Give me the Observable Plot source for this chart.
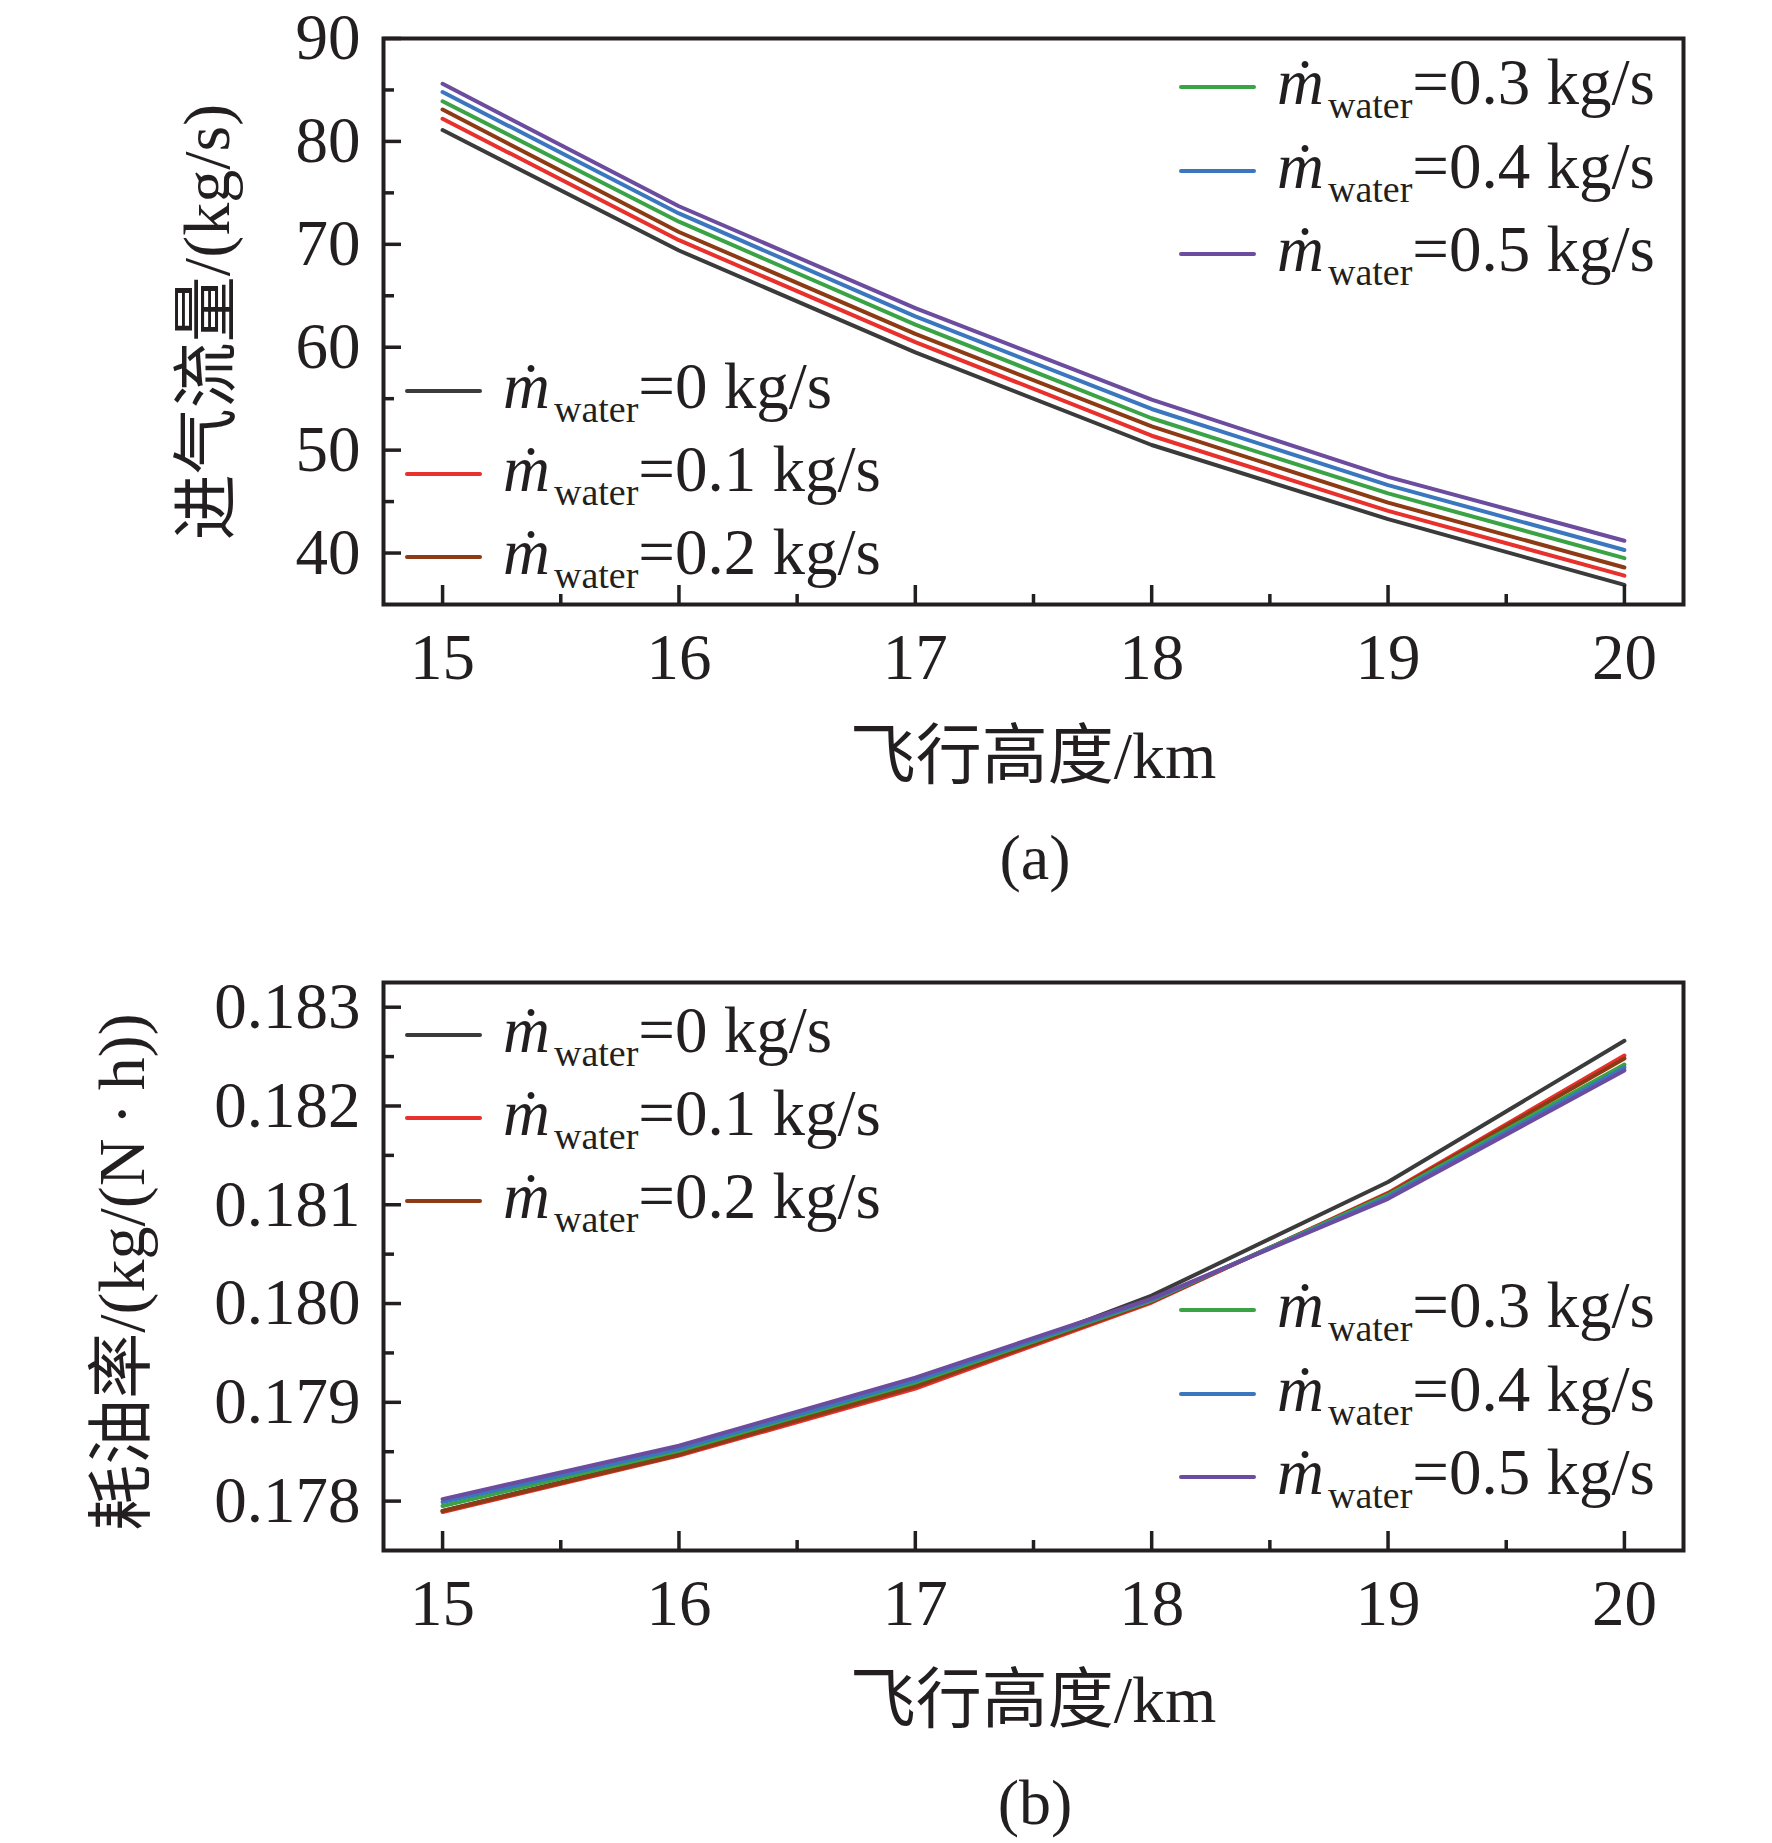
<!DOCTYPE html>
<html>
<head>
<meta charset="utf-8">
<script src="https://cdn.jsdelivr.net/npm/d3@7"></script>
<script src="https://cdn.jsdelivr.net/npm/@observablehq/plot@0.6"></script>
<style>
  html, body { margin: 0; padding: 0; background: #fff; }
  #page { position: relative; width: 1772px; height: 1843px; overflow: hidden; }
  #page > .chart { position: absolute; left: 0; }
  #overlay { position: absolute; left: 0; top: 0; pointer-events: none; }
</style>
</head>
<body>
<div id="page"></div>
<script>
// ---------- data ----------
const altitude = [15, 16, 17, 18, 19, 20];          // km
const waterLabels = ["0", "0.1", "0.2", "0.3", "0.4", "0.5"]; // kg/s
const seriesColors = ["#3b3b3b", "#e8302d", "#8c3b14", "#3aa346", "#3a77bf", "#6b4c9e"];

// (a) intake air mass flow, kg/s
const airflow0 = [81.1, 69.4, 59.5, 50.5, 43.3, 36.9];
const airflow1 = [82.2, 70.4, 60.5, 51.4, 44.1, 37.8];
const airflow2 = [83.1, 71.2, 61.3, 52.3, 44.9, 38.6];
const airflow3 = [83.9, 72.2, 62.2, 53.1, 45.8, 39.5];
const airflow4 = [84.8, 73.0, 63.0, 54.0, 46.6, 40.3];
const airflow5 = [85.6, 73.7, 63.8, 54.9, 47.4, 41.2];

// (b) specific fuel consumption, kg/(N·h)
const sfc0 = [0.17790, 0.17848, 0.17917, 0.18008, 0.18123, 0.18266];
const sfc1 = [0.17789, 0.17846, 0.17914, 0.18001, 0.18112, 0.18251];
const sfc2 = [0.17790, 0.17847, 0.17916, 0.18002, 0.18111, 0.18248];
const sfc3 = [0.17795, 0.17851, 0.17920, 0.18003, 0.18110, 0.18242];
const sfc4 = [0.17799, 0.17853, 0.17922, 0.18004, 0.18108, 0.18239];
const sfc5 = [0.17802, 0.17856, 0.17925, 0.18005, 0.18106, 0.18236];

// ticks
const xMajor = [15, 16, 17, 18, 19, 20];
const xMinor = [15.5, 16.5, 17.5, 18.5, 19.5];
const yMajorA = [40, 50, 60, 70, 80, 90];
const yMinorA = [45, 55, 65, 75, 85];
const yMajorB = [0.178, 0.179, 0.180, 0.181, 0.182, 0.183];
const yMinorB = [0.1785, 0.1795, 0.1805, 0.1815, 0.1825];

// ---------- drawing ----------
const INK = "#231f20";
const FONT = "'Liberation Serif', 'Times New Roman', serif";
const W = 1772;

function makeChart({series, yDomain, yMajor, yMinor, yFormat, top, height, marginTop, marginBottom}) {
  const marginLeft = 383, marginRight = 89;
  const frameW = W - marginLeft - marginRight;
  const frameH = height - marginTop - marginBottom;
  const marks = [];
  series.forEach((vals, i) => {
    marks.push(Plot.line(altitude.map((x, j) => ({x, y: vals[j]})), {
      x: "x", y: "y", stroke: seriesColors[i], strokeWidth: 4, strokeLinejoin: "round"
    }));
  });
  // inward ticks
  marks.push(Plot.tickX(xMajor, {x: d => d, insetTop: frameH - 19, stroke: INK, strokeWidth: 3.5}));
  marks.push(Plot.tickX(xMinor, {x: d => d, insetTop: frameH - 10, stroke: INK, strokeWidth: 3.5}));
  marks.push(Plot.tickY(yMajor, {y: d => d, insetRight: frameW - 18, stroke: INK, strokeWidth: 3.5}));
  marks.push(Plot.tickY(yMinor, {y: d => d, insetRight: frameW - 11, stroke: INK, strokeWidth: 3.5}));
  // labels
  marks.push(Plot.axisX({ticks: xMajor, tickSize: 0, tickPadding: 28, tickFormat: d => String(d), label: null, fill: INK}));
  marks.push(Plot.axisY({ticks: yMajor, tickSize: 0, tickPadding: 23, tickFormat: yFormat, label: null, fill: INK}));
  marks.push(Plot.frame({stroke: INK, strokeWidth: 4}));

  const svg = Plot.plot({
    width: W, height, marginLeft, marginRight, marginTop, marginBottom,
    x: {domain: [14.75, 20.25]},
    y: {domain: yDomain},
    style: {fontFamily: FONT, fontSize: "65px", color: INK, background: "transparent"},
    marks
  });
  svg.classList.add("chart");
  svg.style.top = top + "px";
  document.getElementById("page").appendChild(svg);
}

makeChart({
  series: [airflow0, airflow1, airflow2, airflow3, airflow4, airflow5],
  yDomain: [35, 90], yMajor: yMajorA, yMinor: yMinorA, yFormat: d => String(d),
  top: 0, height: 920, marginTop: 38, marginBottom: 316
});
makeChart({
  series: [sfc0, sfc1, sfc2, sfc3, sfc4, sfc5],
  yDomain: [0.1775, 0.18325], yMajor: yMajorB, yMinor: yMinorB, yFormat: d3.format(".3f"),
  top: 920, height: 923, marginTop: 62, marginBottom: 293
});

// ---------- overlay: titles, captions, legends ----------
const NS = "http://www.w3.org/2000/svg";
const ov = document.createElementNS(NS, "svg");
ov.setAttribute("id", "overlay");
ov.setAttribute("width", W);
ov.setAttribute("height", 1843);
ov.setAttribute("font-family", FONT + ", 'Noto Sans CJK SC'");
ov.setAttribute("fill", INK);
document.getElementById("page").appendChild(ov);

function el(tag, attrs, text) {
  const e = document.createElementNS(NS, tag);
  for (const k in attrs) e.setAttribute(k, attrs[k]);
  if (text != null) e.textContent = text;
  ov.appendChild(e);
  return e;
}
function tspan(parent, attrs, text) {
  const t = document.createElementNS(NS, "tspan");
  for (const k in attrs) t.setAttribute(k, attrs[k]);
  t.textContent = text;
  parent.appendChild(t);
}

// axis titles & captions
el("text", {x: 1033, y: 778, "text-anchor": "middle", "font-size": 66}, "飞行高度/km");
el("text", {x: 1035, y: 879, "text-anchor": "middle", "font-size": 64}, "(a)");
el("text", {x: 1033, y: 1722, "text-anchor": "middle", "font-size": 66}, "飞行高度/km");
el("text", {x: 1035, y: 1824, "text-anchor": "middle", "font-size": 64}, "(b)");
el("text", {x: 0, y: 0, "text-anchor": "middle", "font-size": 66,
  transform: "translate(229,322) rotate(-90)"}, "进气流量/(kg/s)");
el("text", {x: 0, y: 0, "text-anchor": "middle", "font-size": 66,
  transform: "translate(144,1272) rotate(-90)"}, "耗油率/(kg/(N\u2009·\u2009h))");

function legendItem(i, lx, ly) {
  el("line", {x1: lx, x2: lx + 73, y1: ly, y2: ly, stroke: seriesColors[i], "stroke-width": 4, "stroke-linecap": "round"});
  const bx = lx + 96, by = ly + 17;
  const t = el("text", {x: bx, y: by, "font-size": 65});
  tspan(t, {"font-style": "italic"}, "\u1E41");
  tspan(t, {"font-size": 38, dx: 4, dy: 14}, "water");
  tspan(t, {dy: -14}, "=" + waterLabels[i] + " kg/s");
}
// panel (a)
legendItem(0, 407, 391); legendItem(1, 407, 474); legendItem(2, 407, 557);
legendItem(3, 1181, 87); legendItem(4, 1181, 171); legendItem(5, 1181, 254);
// panel (b)
legendItem(0, 407, 1035); legendItem(1, 407, 1118); legendItem(2, 407, 1201);
legendItem(3, 1181, 1310); legendItem(4, 1181, 1394); legendItem(5, 1181, 1477);
</script>
</body>
</html>
